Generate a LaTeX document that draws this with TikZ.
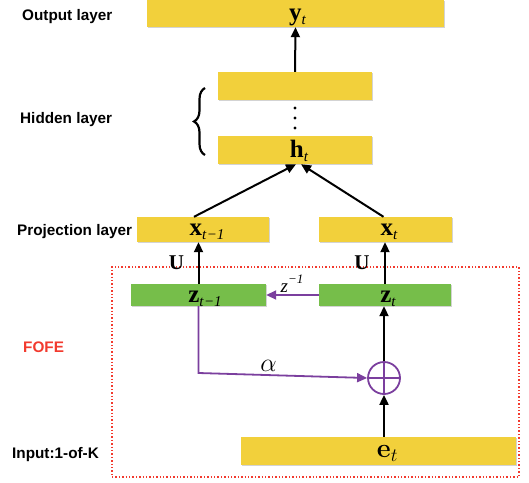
\RequirePackage{fix-cm}
\documentclass[tikz,border=0pt]{standalone}
\usepackage[no-math]{fontspec}
\newfontfamily\labfont{Liberation Sans}
\newfontfamily\serfont{Liberation Serif}
\usetikzlibrary{arrows.meta,shadows,calc,decorations.pathreplacing}
\definecolor{boxyellow}{HTML}{F2D03B}
\definecolor{boxgreen}{HTML}{76BE4A}
\definecolor{fofepurple}{HTML}{7B3F9E}
\definecolor{fofered}{HTML}{F23A2E}
\newcommand\vsub[2]{{\serfont\bfseries\fontsize{25}{26}\selectfont #1}\raisebox{-4pt}{\serfont\itshape\fontsize{15}{16}\selectfont #2}}
\tikzset{
  ybox/.style={fill=boxyellow, draw=none, inner sep=0pt, drop shadow={shadow xshift=1pt, shadow yshift=-1.2pt, opacity=0.35}},
  gbox/.style={fill=boxgreen, draw=none, inner sep=0pt, drop shadow={shadow xshift=1pt, shadow yshift=-1.2pt, opacity=0.35}},
  btxt/.style={anchor=base, inner sep=0pt},
  lab/.style={anchor=west, font=\labfont\bfseries\fontsize{15.3}{17}\selectfont, inner sep=0pt},
  arr/.style={line width=2pt, -{Triangle[length=10pt,width=9pt]}},
  parr/.style={line width=1.8pt, draw=fofepurple, -{Triangle[length=10pt,width=9pt]}},
}
\begin{document}
\begin{tikzpicture}[x=1pt,y=-1pt]
\useasboundingbox (0,0) rectangle (529,482);
% boxes
\node[ybox, minimum width=297pt, minimum height=27pt] (out) at (295.5,13.5) {};
\node[ybox, minimum width=154pt, minimum height=28pt] (hid) at (295,86) {};
\node[ybox, minimum width=154pt, minimum height=28pt] (ht) at (295,150) {};
\node[ybox, minimum width=132pt, minimum height=25pt] (xtm) at (203,229.5) {};
\node[ybox, minimum width=133pt, minimum height=25pt] (xt) at (385.5,229.5) {};
\node[gbox, minimum width=135pt, minimum height=22pt] (ztm) at (198.5,295) {};
\node[gbox, minimum width=132pt, minimum height=22pt] (zt) at (385,295) {};
\node[ybox, minimum width=275pt, minimum height=28pt] (et) at (378.5,451) {};
% box texts
\node[btxt] (tout) at (297.5,20) {\vsub{y}{t}};
\node[btxt] (tht) at (299,157) {\vsub{h}{t}};
\node[btxt] (txtm) at (207,235) {\vsub{x}{t\kern0.5pt−1}};
\node[btxt] (txt) at (389,235) {\vsub{x}{t}};
\node[btxt] (tztm) at (205,302) {\vsub{z}{t\kern0.5pt−1}};
\node[btxt] (tzt) at (388,302) {\vsub{z}{t}};
\node[btxt, font=\fontsize{27}{29}\selectfont] (tet) at (387.5,457) {$\mathbf{e}_t$};
% plus
\node[circle, draw=fofepurple, line width=1.8pt, minimum size=32pt, inner sep=0pt] (plus) at (384,378) {};
\draw[fofepurple, line width=1.5pt] (plus.north) -- (plus.south) (plus.west) -- (plus.east);
% dots
\foreach \yy in {108,118,128} \fill (295,\yy) circle (1.6pt);
% brace
\draw[line width=2.2pt, decorate, decoration={brace, amplitude=11pt}] (205,155) -- (205,88);
% fofe frame
\node[draw=fofered, dotted, line width=1.4pt, minimum width=407pt, minimum height=210pt, inner sep=0pt] (fofe) at (315.5,372) {};
% labels
\node[lab] (l1) at (22,17) {Output layer};
\node[lab] (l2) at (20,120) {Hidden layer};
\node[lab] (l3) at (17,232) {Projection layer};
\node[lab, text=fofered] (l4) at (23,347) {FOFE};
\node[lab] (l5) at (12,455) {Input:1-of-K};
% arrows
\draw[arr] (hid.north) -- (out.south);
\draw[arr] ($(xtm.north)+(-9,0)$) -- ($(ht.south)+(1,0)$);
\draw[arr] ($(xt.north)+(-2,0)$) -- ($(ht.south)+(6,0)$);
\draw[arr] (ztm.north) -- (ztm.north |- xtm.south);
\draw[arr] (zt.north) -- (zt.north |- xt.south);
\node[btxt, font=\serfont\bfseries\fontsize{21}{22}\selectfont] (u1) at (176.5,269) {U};
\node[btxt, font=\serfont\bfseries\fontsize{21}{22}\selectfont] (u2) at (362,269) {U};
\draw[parr] (zt.west) -- (ztm.east);
\node[btxt, font=\serfont\itshape\fontsize{19}{20}\selectfont] (zinv) at (292,292) {z\raisebox{9pt}{\fontsize{13}{14}\selectfont −1}};
\coordinate (corner) at (ztm.south |- 0,373);
\draw[parr] (ztm.south) -- (corner) -- (plus.west);
\node[btxt, font=\fontsize{26}{28}\selectfont] (alpha) at (268.5,371) {$\alpha$};
\draw[arr] (et.north -| plus.south) -- (plus.south);
\draw[arr] (plus.north) -- (plus.north |- zt.south);
\end{tikzpicture}
\end{document}
